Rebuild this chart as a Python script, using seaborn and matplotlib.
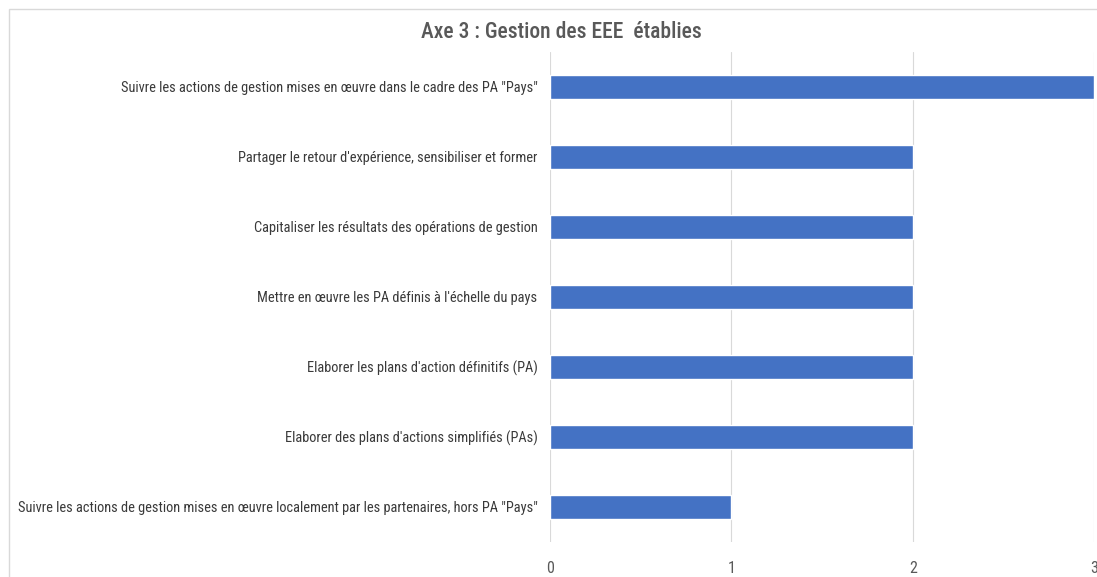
import matplotlib
matplotlib.use('Agg')
import matplotlib.pyplot as plt
import seaborn as sns
import pandas as pd

# Data (top to bottom as displayed)
actions = [
    'Suivre les actions de gestion mises en œuvre dans le cadre des PA "Pays"',
    "Partager le retour d'expérience, sensibiliser et former",
    "Capitaliser les résultats des opérations de gestion",
    "Mettre en œuvre les PA définis à l'échelle du pays",
    "Elaborer les plans d'action définitifs (PA)",
    "Elaborer des plans d'actions simplifiés (PAs)",
    'Suivre les actions de gestion mises en œuvre localement par les partenaires, hors PA "Pays"',
]
counts = [3, 2, 2, 2, 2, 2, 1]
x_ticks = [0, 1, 2, 3]

df = pd.DataFrame({"action": actions, "count": counts})

sns.set_style("white")
plt.rcParams['font.family'] = ['Roboto Condensed', 'DejaVu Sans']

fig = plt.figure(figsize=(10.97, 5.77), dpi=100)
ax = fig.add_axes([0.5014, 0.0607, 0.4959, 0.8492])

sns.barplot(data=df, x="count", y="action", orient="h", color="#4472C4",
            width=0.34, saturation=1, ax=ax)

ax.set_xlim(0, 3)
ax.set_xticks(x_ticks)
ax.set_xticklabels([str(t) for t in x_ticks], color="#595959", fontsize=11.5)
ax.tick_params(axis="x", length=0, pad=14)
ax.tick_params(axis="y", length=0, pad=9, labelsize=10.4, labelcolor="#3A3A3A")
ax.grid(axis="x", color="#D9D9D9", linewidth=0.8)
ax.set_axisbelow(True)
for s in ax.spines.values():
    s.set_visible(False)
ax.set_xlabel("")
ax.set_ylabel("")

fig.text(0.512, 0.945, "Axe 3 : Gestion des EEE  établies", ha="center", va="center",
         fontsize=15.5, color="#595959", fontweight="medium")

# light frame around the chart
frame = plt.Rectangle((0.008, -0.01), 1.0, 0.994, transform=fig.transFigure,
                      fill=False, edgecolor="#D9D9D9", linewidth=1)
fig.patches.append(frame)

fig.savefig("out.png", dpi=100)
